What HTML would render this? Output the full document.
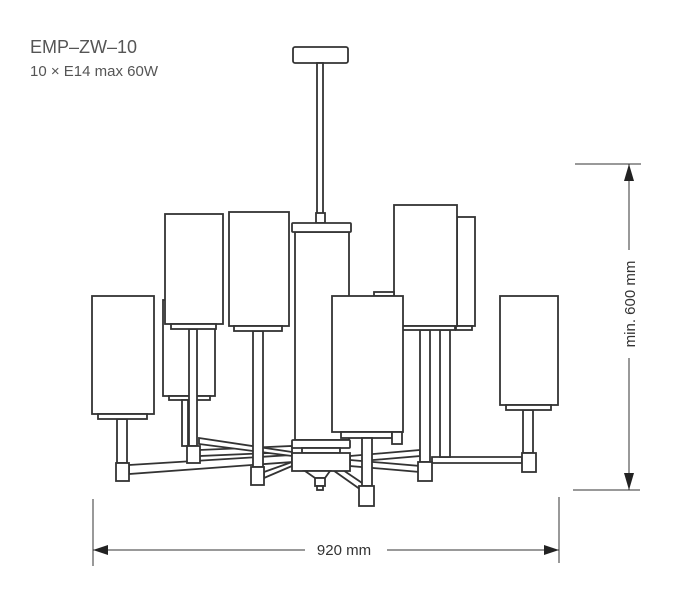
<!DOCTYPE html>
<html><head><meta charset="utf-8"><style>
html,body{margin:0;padding:0;background:#fff;}
svg{display:block;}
text{font-family:"Liberation Sans",sans-serif;}
</style></head><body>
<svg width="680" height="592" viewBox="0 0 680 592" xmlns="http://www.w3.org/2000/svg">
<g fill="#fff" stroke="#333" stroke-width="1.8">
<rect x="293" y="47" width="55" height="16" rx="2"/>
<rect x="317" y="63" width="6" height="152"/>
<rect x="316" y="213" width="9" height="10"/>

<rect x="163" y="300" width="52" height="96"/>
<rect x="169" y="396" width="41" height="4"/>
<rect x="457" y="217" width="18" height="109"/>
<rect x="456" y="326" width="16" height="4"/>

<polygon points="129,465 292,455 292,462 129,474"/>
<polygon points="199,450 292,446 292,452 199,456"/>
<polygon points="199,438 292,452 292,456 199,444"/>
<polygon points="264,472 292,462 292,466 264,478"/>
<polygon points="350,456 420,450 420,456 350,462"/>
<polygon points="350,460 420,466 420,472 350,466"/>
<polygon points="432,457 522,457 522,463 432,463"/>
<polygon points="330,468 364,492 368,487 340,468"/>

<rect x="117" y="419" width="10" height="44"/>
<rect x="182" y="400" width="6" height="46"/>
<rect x="189" y="329" width="8" height="117"/>
<rect x="253" y="331" width="10" height="136"/>
<rect x="420" y="330" width="10" height="132"/>
<rect x="440" y="330" width="10" height="127"/>
<rect x="523" y="410" width="10" height="43"/>

<rect x="295" y="232" width="54" height="208"/>
<rect x="292" y="223" width="59" height="9" rx="1"/>
<rect x="292" y="440" width="58" height="8" rx="1"/>
<rect x="302" y="448" width="38" height="5"/>
<rect x="292" y="453" width="58" height="18"/>
<polygon points="305,471 330,471 325,478 315,478"/>
<rect x="315" y="478" width="10" height="8"/>
<rect x="317" y="486" width="6" height="4"/>

<rect x="92" y="296" width="62" height="118"/>
<rect x="98" y="414" width="49" height="5"/>
<rect x="165" y="214" width="58" height="110"/>
<rect x="171" y="324" width="45" height="5"/>
<rect x="229" y="212" width="60" height="114"/>
<rect x="234" y="326" width="48" height="5"/>
<rect x="394" y="205" width="63" height="121"/>
<rect x="400" y="326" width="55" height="4"/>
<rect x="500" y="296" width="58" height="109"/>
<rect x="506" y="405" width="45" height="5"/>
<rect x="374" y="292" width="20" height="4"/>
<rect x="332" y="296" width="71" height="136"/>
<rect x="341" y="432" width="51" height="6"/>
<rect x="392" y="432" width="10" height="12"/>
<rect x="362" y="438" width="10" height="48"/>

<rect x="116" y="463" width="13" height="18"/>
<rect x="187" y="446" width="13" height="17"/>
<rect x="251" y="467" width="13" height="18"/>
<rect x="359" y="486" width="15" height="20"/>
<rect x="418" y="462" width="14" height="19"/>
<rect x="522" y="453" width="14" height="19"/>
</g>

<g stroke="#333" stroke-width="1" fill="none">
<line x1="93" y1="499" x2="93" y2="566"/>
<line x1="559" y1="497" x2="559" y2="563"/>
<line x1="93" y1="550" x2="305" y2="550"/>
<line x1="387" y1="550" x2="559" y2="550"/>
<line x1="575" y1="164" x2="641" y2="164"/>
<line x1="573" y1="490" x2="640" y2="490"/>
<line x1="629" y1="164" x2="629" y2="250"/>
<line x1="629" y1="358" x2="629" y2="490"/>
</g>
<g fill="#222">
<polygon points="93,550 108,545 108,555"/>
<polygon points="559,550 544,545 544,555"/>
<polygon points="629,164 624,181 634,181"/>
<polygon points="629,490 624,473 634,473"/>
</g>
<text x="344" y="555" font-size="15" fill="#333" text-anchor="middle">920 mm</text>
<text transform="translate(635,304) rotate(-90)" font-size="15" fill="#333" text-anchor="middle">min. 600 mm</text>
<text x="30" y="53" font-size="18" fill="#555">EMP–ZW–10</text>
<text x="30" y="76" font-size="15" fill="#555">10 × E14 max 60W</text>
</svg>
</body></html>
